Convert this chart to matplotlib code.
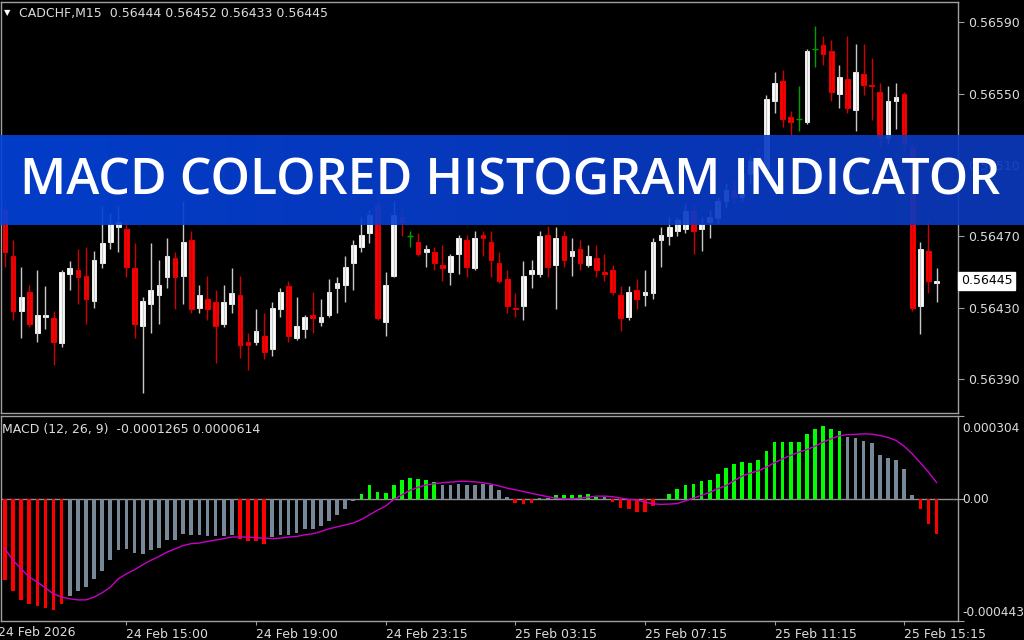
import numpy as np
import matplotlib.pyplot as plt
from matplotlib.transforms import blended_transform_factory
from matplotlib.colors import LinearSegmentedColormap

# CADCHF M15 candles, bar 0 = 24 Feb 11:15
opens = [0.56485, 0.56459, 0.56428, 0.56439, 0.56416, 0.56425, 0.56424, 0.56410, 0.56449, 0.56451,
         0.56448, 0.56434, 0.56455, 0.56467, 0.56475, 0.56474, 0.56452, 0.56420, 0.56432, 0.56437,
         0.56447, 0.56458, 0.56448, 0.56468, 0.56430, 0.56435, 0.56433, 0.56421, 0.56432, 0.56437,
         0.56411, 0.56411, 0.56414, 0.56407, 0.56429, 0.56442, 0.56413, 0.56418, 0.56426, 0.56422,
         0.56426, 0.56441, 0.56443, 0.56455, 0.56464, 0.56472, 0.56488, 0.56422, 0.56448, 0.56481,
         0.56470, 0.56467, 0.56461, 0.56461, 0.56454, 0.56450, 0.56460, 0.56468, 0.56452, 0.56471,
         0.56467, 0.56455, 0.56446, 0.56430, 0.56431, 0.56449, 0.56449, 0.56471, 0.56454, 0.56470,
         0.56459, 0.56463, 0.56454, 0.56458, 0.56450, 0.56451, 0.56437, 0.56425, 0.56440, 0.56437,
         0.56438, 0.56468, 0.56470, 0.56473, 0.56474, 0.56484, 0.56474, 0.56478, 0.56480, 0.56490,
         0.56496, 0.56492, 0.56505, 0.56512, 0.56508, 0.56546, 0.56557, 0.56537, 0.56536, 0.56534,
         0.56575, 0.56577, 0.56574, 0.56550, 0.56558, 0.56541, 0.56561, 0.56555, 0.56551, 0.56525,
         0.56546, 0.56550, 0.56520, 0.56431, 0.56462, 0.56444]
highs = [0.56490, 0.56468, 0.56453, 0.56443, 0.56451, 0.56442, 0.56428, 0.56451, 0.56456, 0.56463,
         0.56464, 0.56462, 0.56487, 0.56483, 0.56487, 0.56478, 0.56466, 0.56436, 0.56466, 0.56457,
         0.56469, 0.56461, 0.56490, 0.56473, 0.56443, 0.56448, 0.56440, 0.56443, 0.56452, 0.56448,
         0.56416, 0.56429, 0.56427, 0.56433, 0.56441, 0.56445, 0.56436, 0.56426, 0.56439, 0.56435,
         0.56446, 0.56447, 0.56459, 0.56468, 0.56481, 0.56485, 0.56492, 0.56450, 0.56490, 0.56485,
         0.56473, 0.56472, 0.56465, 0.56464, 0.56465, 0.56460, 0.56471, 0.56471, 0.56473, 0.56473,
         0.56473, 0.56461, 0.56451, 0.56438, 0.56456, 0.56457, 0.56473, 0.56476, 0.56475, 0.56473,
         0.56469, 0.56468, 0.56465, 0.56465, 0.56460, 0.56454, 0.56442, 0.56442, 0.56446, 0.56451,
         0.56469, 0.56475, 0.56481, 0.56481, 0.56488, 0.56488, 0.56481, 0.56485, 0.56492, 0.56500,
         0.56502, 0.56508, 0.56515, 0.56520, 0.56549, 0.56562, 0.56563, 0.56540, 0.56554, 0.56575,
         0.56588, 0.56582, 0.56580, 0.56566, 0.56582, 0.56578, 0.56578, 0.56570, 0.56556, 0.56554,
         0.56556, 0.56551, 0.56522, 0.56467, 0.56479, 0.56452]
lows = [0.56453, 0.56423, 0.56413, 0.56419, 0.56411, 0.56418, 0.56398, 0.56408, 0.56440, 0.56432,
        0.56421, 0.56430, 0.56452, 0.56463, 0.56461, 0.56447, 0.56413, 0.56382, 0.56416, 0.56421,
        0.56441, 0.56429, 0.56432, 0.56427, 0.56427, 0.56423, 0.56399, 0.56419, 0.56427, 0.56402,
        0.56395, 0.56409, 0.56401, 0.56403, 0.56425, 0.56411, 0.56412, 0.56413, 0.56416, 0.56420,
        0.56425, 0.56427, 0.56433, 0.56440, 0.56461, 0.56466, 0.56423, 0.56414, 0.56447, 0.56470,
        0.56464, 0.56459, 0.56453, 0.56451, 0.56445, 0.56443, 0.56449, 0.56447, 0.56451, 0.56459,
        0.56447, 0.56444, 0.56427, 0.56425, 0.56423, 0.56441, 0.56447, 0.56447, 0.56429, 0.56453,
        0.56448, 0.56451, 0.56453, 0.56447, 0.56445, 0.56437, 0.56417, 0.56423, 0.56429, 0.56431,
        0.56435, 0.56453, 0.56465, 0.56470, 0.56472, 0.56460, 0.56462, 0.56469, 0.56477, 0.56486,
        0.56488, 0.56490, 0.56500, 0.56503, 0.56505, 0.56539, 0.56531, 0.56525, 0.56529, 0.56533,
        0.56565, 0.56566, 0.56546, 0.56542, 0.56539, 0.56529, 0.56549, 0.56535, 0.56520, 0.56522,
        0.56530, 0.56518, 0.56428, 0.56415, 0.56438, 0.56433]
closes = [0.56461, 0.56428, 0.56436, 0.56421, 0.56426, 0.56426, 0.56411, 0.56450, 0.56452, 0.56447,
          0.56435, 0.56457, 0.56466, 0.56477, 0.56478, 0.56453, 0.56421, 0.56434, 0.56440, 0.56443,
          0.56459, 0.56447, 0.56467, 0.56429, 0.56437, 0.56429, 0.56420, 0.56433, 0.56438, 0.56409,
          0.56409, 0.56417, 0.56405, 0.56430, 0.56439, 0.56414, 0.56420, 0.56425, 0.56424, 0.56425,
          0.56439, 0.56444, 0.56453, 0.56465, 0.56471, 0.56482, 0.56424, 0.56443, 0.56482, 0.56478,
          0.56470, 0.56460, 0.56463, 0.56455, 0.56452, 0.56459, 0.56469, 0.56453, 0.56469, 0.56469,
          0.56457, 0.56445, 0.56431, 0.56429, 0.56448, 0.56451, 0.56470, 0.56453, 0.56469, 0.56457,
          0.56462, 0.56455, 0.56459, 0.56451, 0.56449, 0.56439, 0.56424, 0.56439, 0.56435, 0.56439,
          0.56467, 0.56471, 0.56475, 0.56479, 0.56484, 0.56473, 0.56477, 0.56481, 0.56490, 0.56496,
          0.56492, 0.56505, 0.56512, 0.56508, 0.56547, 0.56556, 0.56536, 0.56534, 0.56536, 0.56574,
          0.56575, 0.56572, 0.56551, 0.56559, 0.56542, 0.56562, 0.56555, 0.56554, 0.56525, 0.56546,
          0.56548, 0.56522, 0.56430, 0.56463, 0.56445, 0.56445]

# MACD (12, 26, 9): main line drawn as histogram, signal line
macd_main = [-0.000292, -0.000332, -0.000368, -0.000380, -0.000389, -0.000395, -0.000404, -0.000380,
             -0.000353, -0.000332, -0.000320, -0.000289, -0.000259, -0.000222, -0.000186, -0.000180,
             -0.000194, -0.000198, -0.000186, -0.000177, -0.000149, -0.000149, -0.000125, -0.000131,
             -0.000131, -0.000134, -0.000134, -0.000135, -0.000131, -0.000146, -0.000153, -0.000153,
             -0.000161, -0.000137, -0.000128, -0.000128, -0.000121, -0.000109, -0.000107, -0.000097,
             -0.000080, -0.000058, -0.000034, -0.000007, 0.000019, 0.000051, 0.000027, 0.000023,
             0.000051, 0.000072, 0.000079, 0.000075, 0.000072, 0.000063, 0.000053, 0.000053,
             0.000057, 0.000051, 0.000053, 0.000057, 0.000051, 0.000035, 0.000008, -0.000013,
             -0.000018, -0.000013, 0.000005, 0.000005, 0.000017, 0.000017, 0.000017, 0.000017,
             0.000019, 0.000008, 0.000008, -0.000010, -0.000032, -0.000036, -0.000044, -0.000044,
             -0.000024, 0.000000, 0.000019, 0.000039, 0.000053, 0.000056, 0.000066, 0.000072,
             0.000094, 0.000115, 0.000130, 0.000136, 0.000134, 0.000145, 0.000177, 0.000208,
             0.000210, 0.000210, 0.000210, 0.000237, 0.000258, 0.000266, 0.000255, 0.000250,
             0.000228, 0.000225, 0.000214, 0.000204, 0.000163, 0.000152, 0.000145, 0.000112,
             0.000016, -0.000036, -0.000089, -0.0001265]
macd_signal = [-0.000180, -0.000222, -0.000253, -0.000283, -0.000301, -0.000323, -0.000344, -0.000356,
               -0.000362, -0.000366, -0.000366, -0.000356, -0.000340, -0.000320, -0.000289, -0.000271,
               -0.000256, -0.000238, -0.000222, -0.000208, -0.000192, -0.000180, -0.000168, -0.000161,
               -0.000159, -0.000153, -0.000148, -0.000143, -0.000137, -0.000137, -0.000137, -0.000140,
               -0.000141, -0.000143, -0.000141, -0.000137, -0.000135, -0.000129, -0.000125, -0.000117,
               -0.000107, -0.000100, -0.000093, -0.000086, -0.000073, -0.000056, -0.000039, -0.000024,
               0.000000, 0.000017, 0.000033, 0.000044, 0.000053, 0.000057, 0.000061, 0.000063,
               0.000066, 0.000066, 0.000064, 0.000061, 0.000056, 0.000049, 0.000041, 0.000035,
               0.000029, 0.000022, 0.000016, 0.000010, 0.000005, 0.000002, 0.000002, 0.000005,
               0.000008, 0.000012, 0.000012, 0.000010, 0.000005, 0.000000, -0.000002, -0.000010,
               -0.000016, -0.000018, -0.000017, -0.000015, -0.000005, 0.000005, 0.000015, 0.000026,
               0.000039, 0.000050, 0.000068, 0.000085, 0.000096, 0.000104, 0.000118, 0.000134,
               0.000148, 0.000161, 0.000172, 0.000182, 0.000194, 0.000209, 0.000221, 0.000232,
               0.000236, 0.000237, 0.000239, 0.000238, 0.000233, 0.000226, 0.000215, 0.000194,
               0.000166, 0.000134, 0.000100, 0.0000614]
# histogram state per bar: g = rising above zero, r = falling below zero, s = weakening
hist_state = ("rrrrrrrr" "sssssssssssssssssssss" "rrrr" "sssssssssss" "gggggggggg"
              "sssssssss" "rrr" "ss" "gggggg" "s" "rrrrrr" "s"
              "gggggggggggggggggggggg" "sssssssss" "rrr")

price_ticks = [0.56590, 0.56550, 0.56510, 0.56470, 0.56430, 0.56390]
last_price = 0.56445
macd_top, macd_bottom = 0.000304, -0.000443
time_ticks = [15, 31, 47, 63, 79, 95, 111]
time_labels = ["24 Feb 15:00", "24 Feb 19:00", "24 Feb 23:15", "25 Feb 03:15",
               "25 Feb 07:15", "25 Feb 11:15", "25 Feb 15:15"]

W, H = 1024, 640
txt = '#dcdcdc'
grid_c = '#a0a0a0'

fig = plt.figure(figsize=(W / 100, H / 100), dpi=100, facecolor='black')
ax = fig.add_axes([1 / W, 1 - 413 / H, 957 / W, 411 / H], facecolor='black')
ax2 = fig.add_axes([1 / W, 1 - 621 / H, 957 / W, 205 / H], facecolor='black')

x = np.arange(len(opens))
o = np.array(opens); c = np.array(closes); hi = np.array(highs); lo = np.array(lows)
up = c > o
dn = c < o
dj = c == o

# candles
ax.vlines(x[up], lo[up], hi[up], color='#c8c8c8', lw=1)
ax.vlines(x[dn], lo[dn], hi[dn], color='#d00000', lw=1)
ax.vlines(x[dj], lo[dj], hi[dj], color='#00a000', lw=1)
ax.bar(x[up], (c - o)[up], bottom=o[up], width=0.58, color='white', edgecolor='white', lw=0.6)
ax.bar(x[dn], (o - c)[dn], bottom=c[dn], width=0.58, color='#ff0000', edgecolor='#ff0000', lw=0.6)
ax.hlines(o[dj], x[dj] - 0.35, x[dj] + 0.35, color='#00a000', lw=1)

ax.set_xlim(-0.49, 117.65)
ax.set_ylim(0.56371, 0.566013)
ax.set_xticks([])
ax.yaxis.tick_right()
ax.set_yticks(price_ticks)
ax.set_yticklabels([f"{p:.5f}" for p in price_ticks])

tr = blended_transform_factory(ax.transAxes, ax.transData)
ax.text(1.003, last_price, f"{last_price:.5f}", transform=tr, ha='left', va='center',
        color='black', fontsize=9,
        bbox=dict(boxstyle='square,pad=0.22', fc='white', ec='white'))

# MACD panel
cmap = {'g': '#00ff00', 'r': '#ff0000', 's': '#778899'}
ax2.axhline(0, color='#909090', lw=1, zorder=1)
ax2.bar(x, macd_main, width=0.45, color=[cmap[s] for s in hist_state], zorder=2)
ax2.plot(x, macd_signal, color='#c800c8', lw=1, zorder=3)
ax2.set_xlim(-0.49, 117.65)
ax2.set_ylim(macd_bottom, macd_top)
ax2.yaxis.tick_right()
ax2.set_yticks([macd_top, 0, macd_bottom])
ax2.set_yticklabels([])
tr2 = blended_transform_factory(ax2.transAxes, ax2.transData)
lx = 1.0045
ax2.text(lx, 0, "0.00", transform=tr2, ha='left', va='center', color=txt, fontsize=8.7)
ax2.text(lx, 1 - 12 / 205, "0.000304", transform=ax2.transAxes, ha='left', va='center',
         color=txt, fontsize=8.7)
ax2.text(lx, 9 / 205, "-0.000443", transform=ax2.transAxes, ha='left', va='center',
         color=txt, fontsize=8.7)
ax2.set_xticks(time_ticks)
ax2.set_xticklabels(time_labels, ha='left')

for a in (ax, ax2):
    a.tick_params(axis='y', colors=grid_c, labelcolor=txt, labelsize=9, length=4, pad=3)
    a.tick_params(axis='x', colors=grid_c, labelcolor=txt, labelsize=9, length=3, pad=2)
    for s in a.spines.values():
        s.set_color(grid_c)
        s.set_linewidth(1)

fig.text(-2 / W, 1 - 633 / H, "24 Feb 2026", ha='left', va='center', color=txt, fontsize=9)
fig.text(4 / W, 1 - 13 / H, "\u25bc", ha='left', va='center', color='white', fontsize=6)
fig.text(19 / W, 1 - 14 / H, "CADCHF,M15  0.56444 0.56452 0.56433 0.56445",
         ha='left', va='center', color=txt, fontsize=9)
fig.text(2 / W, 1 - 430 / H, "MACD (12, 26, 9)  -0.0001265 0.0000614",
         ha='left', va='center', color=txt, fontsize=9)

# title banner
bax = fig.add_axes([0, 1 - 225 / H, 1, 90.3 / H], zorder=10)
bax.axis('off')
bcmap = LinearSegmentedColormap.from_list('banner', ['#0342da', '#0b39bd'])
bax.imshow(np.linspace(0, 1, 256).reshape(1, -1), aspect='auto', cmap=bcmap,
           alpha=0.92, extent=[0, 1, 0, 1])
bax.set_xlim(0, 1)
bax.set_ylim(0, 1)
bax.text(0.498, 0.343, "MACD COLORED HISTOGRAM INDICATOR", ha='center', va='baseline',
         color='white', fontsize=36, fontweight='semibold', family='Open Sans')

fig.savefig("out.png", dpi=100, facecolor='black')
